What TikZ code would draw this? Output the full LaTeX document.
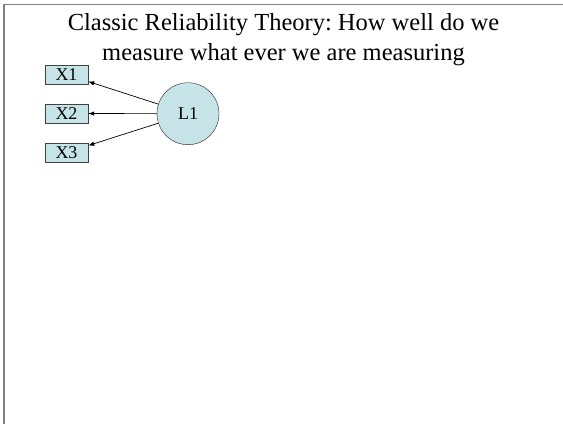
\documentclass[tikz,border=0pt]{standalone}
\usepackage{fontspec}
\setmainfont{Liberation Serif}
\usetikzlibrary{positioning,arrows.meta}
\definecolor{paleblue}{RGB}{198,228,232}
\frenchspacing
\begin{document}
\begin{tikzpicture}[x=1pt, y=-1pt, node distance=39pt,
    item/.style={rectangle, draw=black!75, fill=paleblue, minimum width=43pt, minimum height=19pt, inner sep=0pt, font=\fontsize{18}{18}\selectfont},
    latent/.style={circle, draw=black!85, fill=paleblue, minimum size=62pt, inner sep=0pt, font=\fontsize{18}{18}\selectfont},
    arrow/.style={-{Latex[length=6pt,width=4.5pt]}, line width=0.7pt}]

    \useasboundingbox (0,0) rectangle (563,424);
    \draw [gray, line width=1.5pt] (4,424) -- (4,4.5) -- (563,4.5);

    \node [align=center, anchor=north, inner sep=0pt, font=\fontsize{24.5}{30}\selectfont] (title) at (283.5,13) {Classic Reliability Theory: How well do we\\measure what ever we are measuring};

    \node [item] (x1) at (66.5,74.5) {X1};
    \node [item, below of=x1] (x2) {X2};
    \node [item, below of=x2] (x3) {X3};
    \node [latent] (l1) at (188,113.7) {L1};

    \draw [arrow] (l1) -- (x1);
    \draw [arrow] (l1) -- (x2);
    \draw [arrow] (l1) -- (x3);
\end{tikzpicture}
\end{document}
